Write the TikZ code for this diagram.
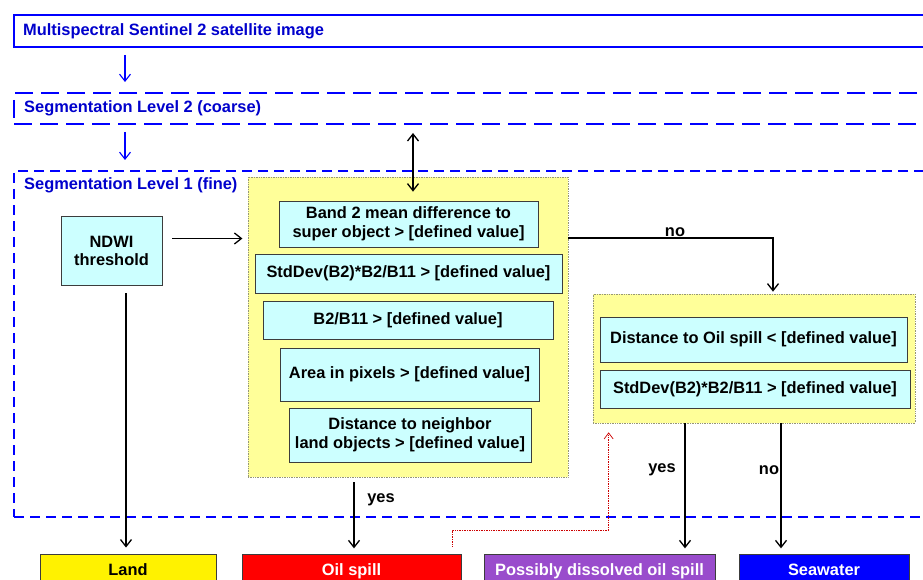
\documentclass[tikz,border=0pt]{standalone}
\usepackage{fontspec}
\setmainfont{Liberation Sans}
\usetikzlibrary{arrows.meta,calc}
\definecolor{bl}{RGB}{0,0,255}
\definecolor{bltext}{RGB}{0,0,204}
\definecolor{yel}{RGB}{255,255,153}
\definecolor{cy}{RGB}{204,255,255}
\definecolor{purp}{RGB}{153,76,204}
\definecolor{ybord}{RGB}{150,150,120}
\definecolor{cbord}{RGB}{60,60,60}
\definecolor{rline}{RGB}{204,0,0}
\begin{document}
\begin{tikzpicture}[x=1pt,y=-1pt,
  font=\fontsize{16.4}{19.5}\selectfont\bfseries,
  frame/.style={draw=bl, line width=2pt, minimum width=930pt, anchor=north west, inner sep=0pt},
  ttl/.style={text=bltext, inner sep=0pt, anchor=west},
  ybox/.style={fill=yel, draw=ybord, line width=0.7pt, densely dotted, inner sep=0pt},
  cbox/.style={fill=cy, draw=cbord, line width=0.9pt, solid, inner sep=0pt, align=center},
  res/.style={draw=cbord, line width=0.9pt, inner sep=0pt, minimum height=32pt, text height=11.8pt, text depth=0pt},
  lbl/.style={inner sep=0pt},
  barrow/.style={draw=bl, line width=1.1pt, -{Straight Barb[length=7pt,width=11pt]}},
  karrow/.style={draw=black, line width=1.3pt, -{Straight Barb[length=7pt,width=11pt]}},
  kdarrow/.style={draw=black, line width=1.3pt, {Straight Barb[length=7pt,width=11pt]}-{Straight Barb[length=7pt,width=11pt]}},
  rarrow/.style={draw=rline, line width=0.7pt, densely dotted, -{Straight Barb[length=6pt,width=9pt]}}
]
\useasboundingbox (0,0) rectangle (923,580);
\clip (0,0) rectangle (923,580);

% frames
\node[frame, minimum height=32pt] (img) at (13,14) {};
\node[frame, dash pattern=on 18pt off 8pt, minimum height=31pt] (lvl2) at (13,92) {};
\node[frame, dash pattern=on 10pt off 6pt, minimum height=346pt] (lvl1) at (13,170) {};
\node[ttl] (imgt) at (23,31) {Multispectral Sentinel 2 satellite image};
\node[ttl] (lvl2t) at (24,108) {Segmentation Level 2 (coarse)};
\node[ttl] (lvl1t) at (24,185) {Segmentation Level 1 (fine)};

% NDWI
\node[cbox, minimum width=101pt, minimum height=69pt] (ndwi) at (111.5,250.5) {NDWI\\[-1.5pt]threshold};

% yellow box 1
\node[ybox, minimum width=320pt, minimum height=300pt] (y1) at (408,327) {};
\node[cbox, minimum width=259pt, minimum height=46pt] (b1) at (408.5,224) {Band 2 mean difference to\\super object > [defined value]};
\node[cbox, minimum width=307pt, minimum height=39pt] (b2) at (408.5,273.5) {StdDev(B2)*B2/B11 > [defined value]};
\node[cbox, minimum width=290pt, minimum height=38pt] (b3) at (408,320) {B2/B11 > [defined value]};
\node[cbox, minimum width=259pt, minimum height=53pt] (b4) at (409.5,374.5) {Area in pixels > [defined value]};
\node[cbox, minimum width=242pt, minimum height=54pt] (b5) at (410,435) {Distance to neighbor\\land objects > [defined value]};

% yellow box 2
\node[ybox, minimum width=322pt, minimum height=129pt] (y2) at (754,358.5) {};
\node[cbox, minimum width=307pt, minimum height=45pt] (b6) at (753.5,339.5) {Distance to Oil spill < [defined value]};
\node[cbox, minimum width=310pt, minimum height=38pt] (b7) at (755,389) {StdDev(B2)*B2/B11 > [defined value]};

% results
\node[res, fill=yellow, minimum width=176pt] (land) at (128,570) {Land};
\node[res, fill=red, text=white, minimum width=219pt] (oil) at (351.5,570) {Oil spill};
\node[res, fill=purp, text=white, minimum width=231pt] (poss) at (599.5,570) {Possibly dissolved oil spill};
\node[res, fill=bl, text=white, minimum width=170pt] (sea) at (824,570) {Seawater};

% blue arrows
\draw[barrow] ($(img.south west)+(112,7)$) -- ($(lvl2.north west)+(112,-10)$);
\draw[barrow] ($(lvl2.south west)+(112,7)$) -- ($(lvl1.north west)+(112,-10)$);

% black connectors
\draw[kdarrow] ($(lvl2.south west)+(400,8)$) -- ($(y1.north)+(5,15)$);
\draw[karrow] ($(ndwi.east)+(10,-12)$) -- ++(70,0);
\draw[karrow] ($(ndwi.south)+(14.5,8)$) -- ($(land.north)+(-2,-6)$);
\draw[karrow] ($(y1.south)+(-54,5)$) -- ($(y1.south)+(-54,71)$);
\draw[karrow] ($(y1.east)+(0,-89)$) -| ($(y2.north)+(19,-2)$);
\draw[karrow] ($(y2.south)+(-69,0)$) -- ($(y2.south)+(-69,125)$);
\draw[karrow] ($(y2.south)+(27,0)$) -- ($(y2.south)+(27,125)$);
\draw[rarrow] ($(oil.north east)+(-9,-7)$) -- ++(0,-16) -| ($(y2.south west)+(16,9)$);

% labels
\node[lbl] (no1) at (675,232) {no};
\node[lbl] (yes1) at (381,500) {yes};
\node[lbl] (yes2) at (662,470) {yes};
\node[lbl] (no2) at (769,470) {no};
\end{tikzpicture}
\end{document}
